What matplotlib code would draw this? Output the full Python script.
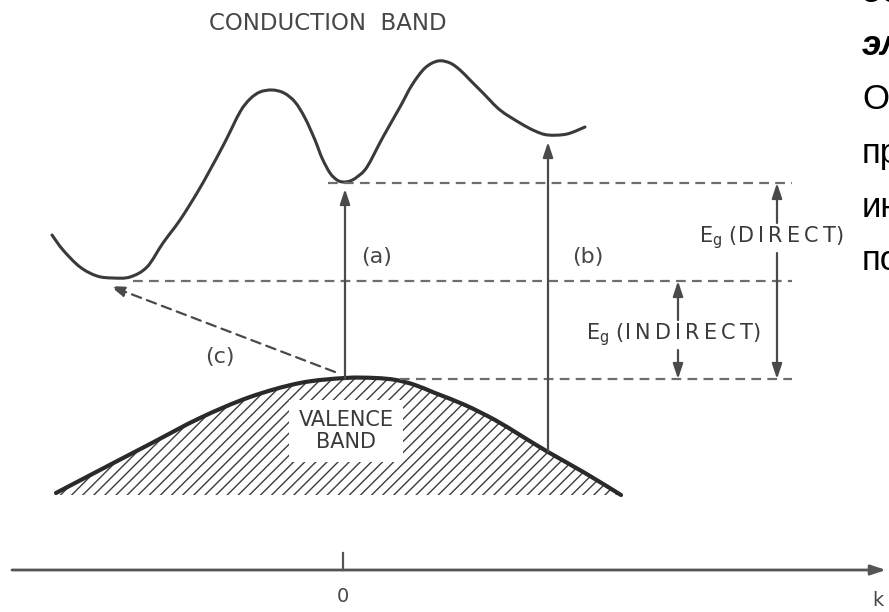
import numpy as np
import matplotlib
matplotlib.use('Agg')
import matplotlib.pyplot as plt
from matplotlib.path import Path
from matplotlib.patches import PathPatch

plt.rcParams['lines.scale_dashes'] = False
plt.rcParams['hatch.linewidth'] = 1.0
plt.rcParams['hatch.color'] = '#3c3c3c'

# Band curves (k in px across, E in px down from the top)
cond_k = [52, 63, 80, 97, 113, 130, 147, 163, 180, 197, 210, 225, 240, 250, 260, 272,
          284, 295, 305, 315, 322, 330, 337, 343, 350, 357, 367, 383, 400, 412, 425,
          438, 450, 460, 470, 483, 500, 520, 535, 548, 567, 585]
cond_E = [235, 250, 267, 276, 278, 277, 267, 243, 220, 193, 170, 142, 112, 99, 92, 90,
          93, 102, 118, 140, 158, 173, 180, 182, 181, 177, 167, 137, 107, 85, 68,
          61, 63, 70, 80, 93, 110, 123, 131, 135, 134, 127]

val_k = [56, 100, 150, 200, 250, 300, 345, 375, 396, 415, 435, 465, 495, 520, 548, 585, 621]
val_E = [493, 470, 444, 418, 397, 383, 378, 378, 380, 385, 393, 405, 420, 435, 452, 473, 495]
val_floor = 495

# Energy levels and transitions
E_direct = 183
E_indirect = 281
E_vmax = 379
k_direct = 345        # transition (a)
k_b = 548             # transition (b)
E_b_top = 142
E_b_bottom = 452
k_cmin = 110          # indirect minimum
k_gap_ind = 678       # E_g (INDIRECT) bracket
k_gap_dir = 777       # E_g (DIRECT) bracket
level_end = 792

# Cyrillic fragments of the slide text cut off at the right edge
slide_lines = ['од', 'эл', 'О', 'пр', 'ин', 'по']
slide_base = [2, 55, 109, 163, 217, 270]
slide_style = ['bi', 'bi', 'n', 'n', 'n', 'n']

ink = '#3a3a3a'
dash_col = '#6e6e6e'
label_col = '#474747'


# draws a smooth curve through the read points (Catmull-Rom as cubic Beziers)
def curve_path(xs, ys, close_to=None):
    pts = np.column_stack([xs, ys]).astype(float)
    verts = [pts[0]]
    codes = [Path.MOVETO]
    n = len(pts)
    for i in range(n - 1):
        p0 = pts[max(i - 1, 0)]
        p1 = pts[i]
        p2 = pts[i + 1]
        p3 = pts[min(i + 2, n - 1)]
        verts += [p1 + (p2 - p0) / 6, p2 - (p3 - p1) / 6, p2]
        codes += [Path.CURVE4] * 3
    if close_to is not None:
        verts += [(xs[-1], close_to), (xs[0], close_to), pts[0]]
        codes += [Path.LINETO, Path.LINETO, Path.CLOSEPOLY]
    return Path(verts, codes)


def spaced(s):
    return '\u2009'.join(s)


fig = plt.figure(figsize=(8.89, 6.12), dpi=100)
ax = fig.add_axes([0, 0, 1, 1])
ax.set_xlim(0, 889)
ax.set_ylim(612, 0)
ax.axis('off')

# conduction band
ax.add_patch(PathPatch(curve_path(cond_k, cond_E), fill=False, edgecolor=ink, lw=2.2,
                       capstyle='round'))
ax.text(328, 23, 'CONDUCTION  BAND', ha='center', va='center', fontsize=16.5, color=label_col)

# valence band, hatched
ax.add_patch(PathPatch(curve_path(val_k, val_E, close_to=val_floor), facecolor='none',
                       edgecolor='#3c3c3c', hatch='///', lw=0))
ax.add_patch(PathPatch(curve_path(val_k, val_E), fill=False, edgecolor='#2a2a2a', lw=3,
                       capstyle='round'))
ax.text(346, 431, 'VALENCE\nBAND', ha='center', va='center', fontsize=15, color='#3a3a3a',
        linespacing=1.15,
        bbox=dict(boxstyle='square,pad=0.45', facecolor='white', edgecolor='none'))

# dashed energy levels
dash = (0, (7, 4.5))
ax.plot([328, level_end], [E_direct, E_direct], color=dash_col, lw=1.6, linestyle=dash)
ax.plot([133, level_end], [E_indirect, E_indirect], color=dash_col, lw=1.6, linestyle=dash)
ax.plot([400, level_end], [E_vmax, E_vmax], color=dash_col, lw=1.6, linestyle=dash)

arrow_kw = dict(arrowstyle='-|>,head_length=0.9,head_width=0.3', color='#4a4a4a', lw=1.6,
                shrinkA=0, shrinkB=0)

# (a) direct transition
ax.annotate('', xy=(k_direct, E_direct + 6), xytext=(k_direct, E_vmax), arrowprops=arrow_kw)
ax.text(377, 257, '(a)', ha='center', va='center', fontsize=16, color=label_col)

# (b) higher transition
ax.annotate('', xy=(k_b, E_b_top), xytext=(k_b, E_b_bottom), arrowprops=arrow_kw)
ax.text(588, 257, '(b)', ha='center', va='center', fontsize=16, color=label_col)

# (c) indirect transition
ax.annotate('', xy=(k_cmin, E_indirect + 5), xytext=(335, 372),
            arrowprops=dict(arrow_kw, linestyle=(0, (7, 4.5))))
ax.text(220, 357, '(c)', ha='center', va='center', fontsize=16, color=label_col)


# E_g brackets, line broken by the label
def gap_bracket(k, top, bottom, word, lx, ly, half):
    ax.annotate('', xy=(k, top), xytext=(k, ly - half), arrowprops=arrow_kw)
    ax.annotate('', xy=(k, bottom), xytext=(k, ly + half), arrowprops=arrow_kw)
    ax.text(lx, ly, r'E$_\mathregular{g}$ (' + spaced(word) + ')', ha='center', va='center',
            fontsize=15, color='#3a3a3a')


gap_bracket(k_gap_ind, E_indirect, E_vmax, 'INDIRECT', 673, 335, 15)
gap_bracket(k_gap_dir, E_direct, E_vmax, 'DIRECT', 771, 238, 15)

# k axis
ax.annotate('', xy=(886, 570), xytext=(12, 570),
            arrowprops=dict(arrowstyle='-|>,head_length=0.9,head_width=0.3', color='#555555',
                            lw=2, shrinkA=0, shrinkB=0))
ax.plot([343, 343], [553, 570], color='#555555', lw=1.6)
ax.text(343, 596, '0', ha='center', va='center', fontsize=14, color=label_col)
ax.text(878, 601, 'k', ha='center', va='center', fontsize=14, color=label_col)

# slide text fragments
for s, b, st in zip(slide_lines, slide_base, slide_style):
    ax.text(862, b, s, ha='left', va='baseline', fontsize=25, color='black',
            family='Liberation Sans',
            fontweight='bold' if st == 'bi' else 'normal',
            fontstyle='italic' if st == 'bi' else 'normal')

fig.savefig('out.png', dpi=100, facecolor='white')
